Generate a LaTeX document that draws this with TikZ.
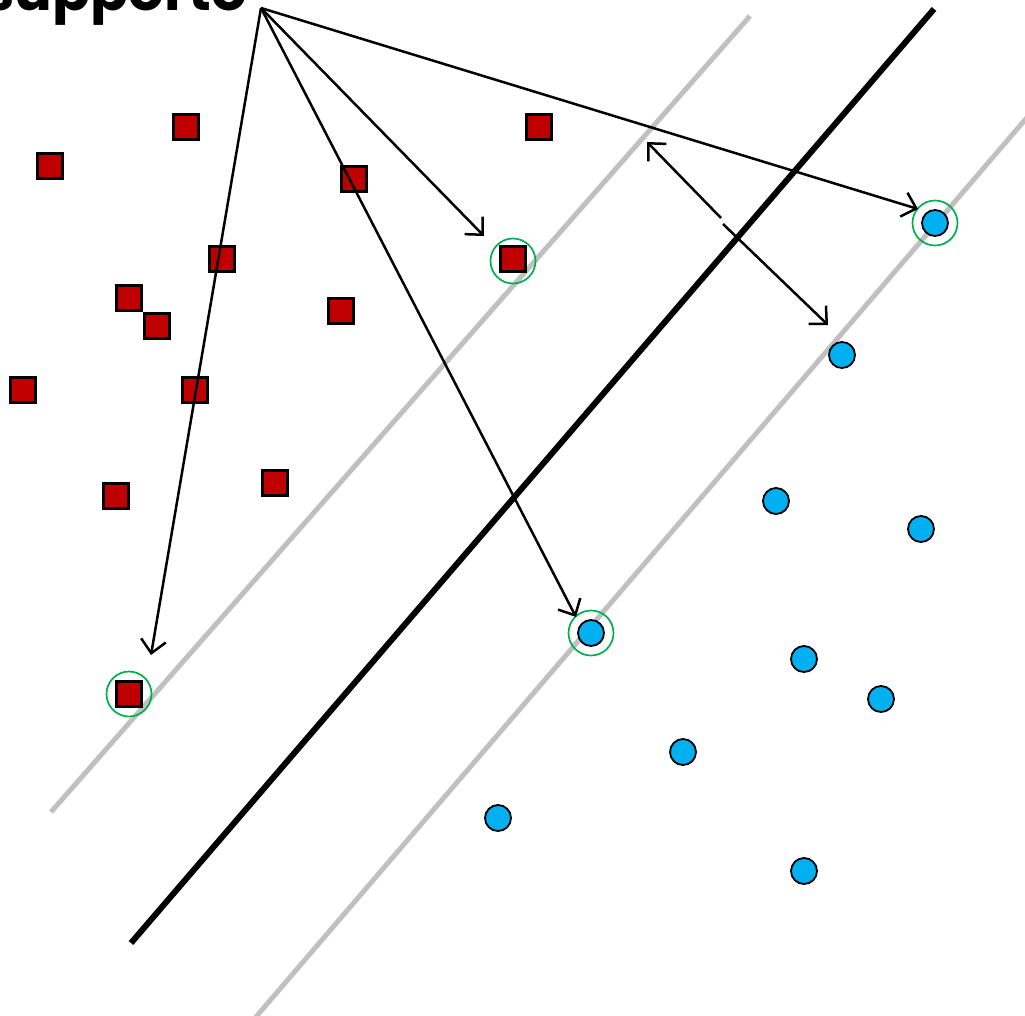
\documentclass[tikz,border=0pt]{standalone}
\usepackage{fontspec}
\newfontfamily\popfont{Poppins}
\usetikzlibrary{arrows.meta}
\definecolor{sqred}{HTML}{C00000}
\definecolor{ptblue}{HTML}{00B0F0}
\definecolor{svgreen}{HTML}{00B050}
\definecolor{margray}{HTML}{C0C0C0}
\tikzset{
  sq/.style={rectangle, draw=black, fill=sqred, line width=2.3pt, minimum size=25pt, inner sep=0pt},
  pt/.style={circle, draw=black, fill=ptblue, line width=1.8pt, minimum size=26pt, inner sep=0pt},
  sv/.style={circle, draw=svgreen, line width=1.7pt, minimum size=45pt, inner sep=0pt},
  margin/.style={draw=margray, line width=5pt},
  hyper/.style={draw=black, line width=6pt},
  arr/.style={draw=black, line width=2.5pt, -{Straight Barb[length=13pt,width=25pt,line width=2.5pt]}},
}
\begin{document}
\begin{tikzpicture}[x=1pt,y=-1pt]
\useasboundingbox (0,0) rectangle (1025,1015);
% margins and hyperplane
\coordinate (m1a) at (51,812); \coordinate (m1b) at (750,16);
\coordinate (m2a) at (255,1018); \coordinate (m2b) at (1030,114);
\coordinate (ha) at (131,943); \coordinate (hb) at (934,9);
\draw[margin] (m1a) -- (m1b);
\draw[margin] (m2a) -- (m2b);
\draw[hyper] (ha) -- (hb);
% red squares
\node[sq] (r1) at (186,127) {};
\node[sq] (r2) at (50,166) {};
\node[sq] (r3) at (354,179) {};
\node[sq] (r4) at (539,127) {};
\node[sq] (r5) at (222,259) {};
\node[sq] (r6) at (129,298) {};
\node[sq] (r7) at (157,326) {};
\node[sq] (r8) at (341,311) {};
\node[sq] (r9) at (23,390) {};
\node[sq] (r10) at (195,390) {};
\node[sq] (r11) at (116,496) {};
\node[sq] (r12) at (275,483) {};
\node[sq] (rs1) at (513,259) {};
\node[sq] (rs2) at (129,694) {};
% blue circles
\node[pt] (b1) at (935,223) {};
\node[pt] (b2) at (842,355) {};
\node[pt] (b3) at (776,501) {};
\node[pt] (b4) at (921,529) {};
\node[pt] (b5) at (591,633) {};
\node[pt] (b6) at (804,659) {};
\node[pt] (b7) at (881,699) {};
\node[pt] (b8) at (683,752) {};
\node[pt] (b9) at (498,818) {};
\node[pt] (b10) at (804,871) {};
% support vector rings
\node[sv] (s1) at (513,261) {};
\node[sv] (s2) at (591,633) {};
\node[sv] (s3) at (935,223) {};
\node[sv] (s4) at (129,694) {};
% label
\node[anchor=base east, inner sep=0pt, font=\popfont\bfseries\fontsize{56}{60}\selectfont] (lbl) at (247,10) {Vettori di supporto};
\coordinate (apex) at (261,8);
\coordinate (t1) at (484,236);
\coordinate (t2) at (576,617);
\coordinate (t3) at (918,209);
\coordinate (t4) at (151,655);
\draw[arr] (apex) -- (t1);
\draw[arr] (apex) -- (t2);
\draw[arr] (apex) -- (t3);
\draw[arr] (apex) -- (t4);
% margin width arrow
\coordinate (w0) at (721,218);
\coordinate (w1) at (647,142);
\coordinate (w2) at (723,224);
\coordinate (w3) at (828,325);
\draw[arr] (w0) -- (w1);
\draw[arr] (w2) -- (w3);
\end{tikzpicture}
\end{document}
